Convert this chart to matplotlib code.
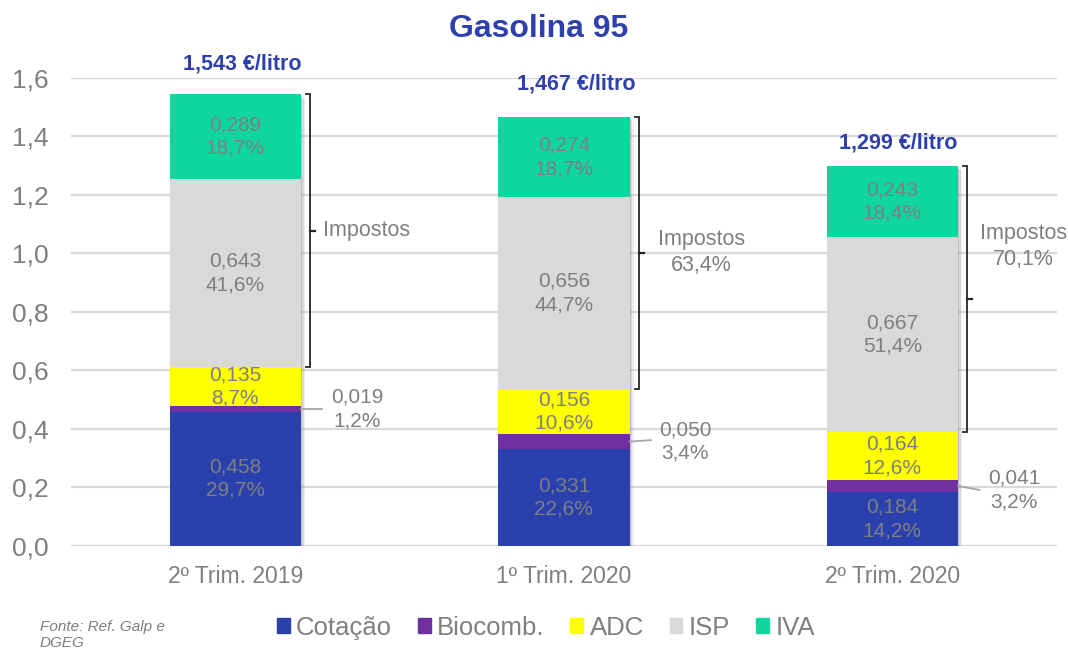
import matplotlib
matplotlib.use("Agg")
import matplotlib.pyplot as plt
import matplotlib.patheffects as pe
from matplotlib.patches import Patch
import numpy as np

plt.rcParams["font.family"] = ["Liberation Sans", "DejaVu Sans"]

# data
categories = ["2º Trim. 2019", "1º Trim. 2020", "2º Trim. 2020"]
components = ["Cotação", "Biocomb.", "ADC", "ISP", "IVA"]
cotacao = [0.458, 0.331, 0.184]
biocomb = [0.019, 0.050, 0.041]
adc = [0.135, 0.156, 0.164]
isp = [0.643, 0.656, 0.667]
iva = [0.289, 0.274, 0.243]
pct_cotacao = ["29,7%", "22,6%", "14,2%"]
pct_biocomb = ["1,2%", "3,4%", "3,2%"]
pct_adc = ["8,7%", "10,6%", "12,6%"]
pct_isp = ["41,6%", "44,7%", "51,4%"]
pct_iva = ["18,7%", "18,7%", "18,4%"]
totals = ["1,543", "1,467", "1,299"]
impostos_pct = ["", "63,4%", "70,1%"]

colors = ["#2A40AC", "#7030A0", "#FFFF00", "#D9D9D9", "#0FD59E"]
blue_txt = "#2E40AE"
gray_txt = "#7F7F7F"

# label placement tweaks (style only)
total_dx = [0.022, 0.037, 0.018]
total_dy = [0.104, 0.112, 0.079]
imp_dx = [0.40, 0.418, 0.398]
imp_dy = [0.0, 0.0, 0.18]
bio_dy = [0.0, 0.0, -0.014]

fig = plt.figure(figsize=(10.68, 6.5), dpi=100)
ax = fig.add_axes([0.0665, 0.1605, 0.9228, 0.7195])

x = np.arange(len(categories))
w = 0.4
series = [cotacao, biocomb, adc, isp, iva]
pcts = [pct_cotacao, pct_biocomb, pct_adc, pct_isp, pct_iva]

tops = np.sum(np.array(series), axis=0)
tax_lo = np.array(cotacao) + np.array(biocomb) + np.array(adc)

# soft shadow behind each whole stack
for off, a in [((3, -3), 0.12), ((2, -2), 0.18), ((1, -1), 0.25)]:
    ax.bar(x, tops, w, color="none", zorder=2,
           path_effects=[pe.SimplePatchShadow(offset=off, shadow_rgbFace="#7a7a7a", alpha=a)])

bottom = np.zeros(len(categories))
for vals, col, name in zip(series, colors, components):
    ax.bar(x, vals, w, bottom=bottom, color=col, label=name, zorder=3, linewidth=0)
    bottom += np.array(vals)

# segment labels
bottom = np.zeros(len(categories))
for k, (vals, p) in enumerate(zip(series, pcts)):
    for i in range(len(categories)):
        v = vals[i]
        mid = bottom[i] + v / 2
        txt = f"{v:.3f}".replace(".", ",") + "\n" + p[i]
        if k == 1:
            tx = x[i] + 0.37
            ty = mid + bio_dy[i]
            ax.plot([x[i] + w / 2, x[i] + 0.265], [mid, ty + 0.005 if i == 1 else ty],
                    color="#A6A6A6", lw=1.3, zorder=4)
            ax.text(tx, ty, txt, ha="center", va="center", fontsize=15,
                    color=gray_txt, linespacing=1.3, zorder=5)
        else:
            ax.text(x[i], mid, txt, ha="center", va="center", fontsize=15,
                    color=gray_txt, linespacing=1.3, zorder=5)
    bottom += np.array(vals)

# totals and tax brackets
for i in range(len(categories)):
    ax.text(x[i] + total_dx[i], tops[i] + total_dy[i], f"{totals[i]} €/litro",
            ha="center", va="center", fontsize=15.5, fontweight="bold", color=blue_txt)
    bx = x[i] + w / 2 + 0.028
    hook = 0.012
    ax.plot([bx - hook, bx, bx, bx - hook], [tops[i], tops[i], tax_lo[i], tax_lo[i]],
            color="#262626", lw=1.3, zorder=4, solid_joinstyle="miter")
    ym = (tops[i] + tax_lo[i]) / 2
    ax.plot([bx, bx + 0.016], [ym, ym], color="#262626", lw=1.6, zorder=4)
    label = "Impostos" + ("\n" + impostos_pct[i] if impostos_pct[i] else "")
    ax.text(x[i] + imp_dx[i], ym + imp_dy[i], label, ha="center", va="center",
            fontsize=15.5, color=gray_txt, linespacing=1.3)

ax.set_xlim(-0.5, 2.5)
ax.set_ylim(0, 1.6)
ax.set_yticks(np.arange(0, 1.61, 0.2))
ax.set_yticklabels([f"{v:.1f}".replace(".", ",") for v in np.arange(0, 1.61, 0.2)])
ax.set_xticks(x)
ax.set_xticklabels(categories)
ax.tick_params(axis="y", length=0, pad=16, labelsize=19, labelcolor=gray_txt)
ax.tick_params(axis="x", length=0, pad=14, labelsize=16.5, labelcolor=gray_txt)
ax.grid(axis="y", color="#D9D9D9", lw=1.6, zorder=0)
ax.set_axisbelow(True)
for s in ax.spines.values():
    s.set_visible(False)

fig.text(0.504, 0.955, "Gasolina 95", ha="center", va="center", fontsize=23,
         fontweight="bold", color=blue_txt)

handles = [Patch(color=c, label=n) for c, n in zip(colors, components)]
fig.legend(handles=handles, loc="center", bbox_to_anchor=(0.511, 0.034), ncol=5,
           frameon=False, fontsize=18.5, handlelength=0.5, handleheight=0.5,
           handletextpad=0.25, columnspacing=1.0, labelcolor=gray_txt)

fig.text(0.037, 0.023, "Fonte: Ref. Galp e\nDGEG", ha="left", va="center",
         fontsize=11, style="italic", color=gray_txt, linespacing=1.25)

fig.savefig("out.png", dpi=100)
